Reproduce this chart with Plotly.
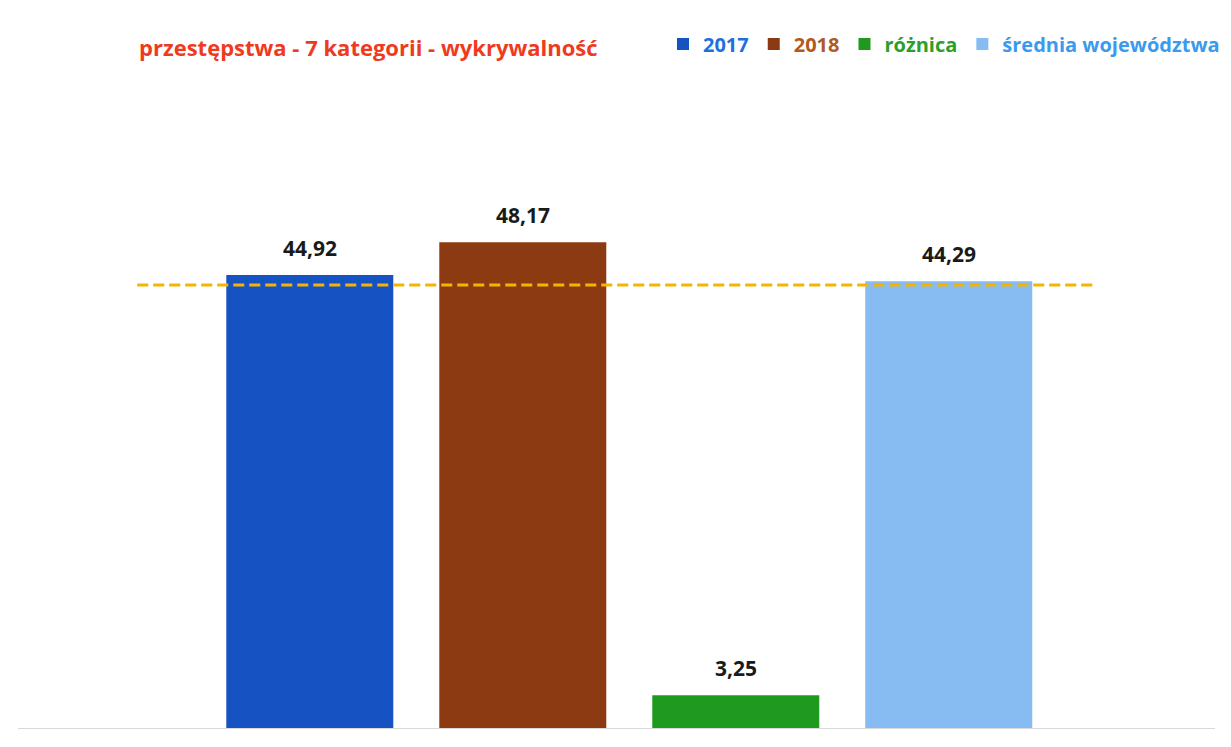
import plotly.graph_objects as go

categories = ["2017", "2018", "różnica", "średnia województwa"]
values = [44.92, 48.17, 3.25, 44.29]
labels = ["44,92", "48,17", "3,25", "44,29"]
colors = ["#1652C2", "#8C3A12", "#1F9A1F", "#86BCF2"]
legend_colors = ["#1F6FE0", "#B05A20", "#2AA02A", "#3A9AEE"]
average_line = 43.93

# page body has an 8px default margin; compensate
L, R, T, B = 10, 24, 72, 27
W, H = 1231, 747
PW, PH = W - L - R, H - T - B

fig = go.Figure()
for i, (cat, v, c, lc) in enumerate(zip(categories, values, colors, legend_colors)):
    fig.add_trace(go.Bar(
        x=[i], y=[v], width=0.784,
        name=f"<span style='color:{lc}'><b>{cat}</b></span>",
        marker=dict(color=c, line=dict(width=0)),
        hoverinfo="skip",
    ))
    fig.add_annotation(x=i, y=v, text=f"<b>{labels[i]}</b>", showarrow=False,
                       yanchor="bottom", yshift=11,
                       font=dict(size=21, color="#1a1a1a", family="Open Sans"))

fig.add_shape(type="line", x0=-0.81, x1=3.69, y0=average_line, y1=average_line,
              xref="x", yref="y", line=dict(color="#F5B400", width=3, dash="11px,5px"))

fig.update_layout(
    width=W, height=H,
    paper_bgcolor="white", plot_bgcolor="white",
    margin=dict(l=L, r=R, t=T, b=B),
    separators=",.",
    barmode="overlay",
    showlegend=True,
    legend=dict(orientation="h", x=1 + 10 / PW, xanchor="right",
                y=1 + (80 - 44) / PH, yanchor="middle",
                font=dict(size=20, family="Open Sans"), itemwidth=30,
                bgcolor="rgba(0,0,0,0)"),
    xaxis=dict(range=[-1.37, 4.25], showticklabels=False, showgrid=False,
               zeroline=False, showline=False),
    yaxis=dict(range=[0, 64.25], showticklabels=False, showgrid=False,
               zeroline=True, zerolinecolor="#D9D9D9", zerolinewidth=1, showline=False),
)
fig.add_annotation(x=(137 - 18) / PW, xref="paper", xanchor="left",
                   y=1 + (80 - 47) / PH, yref="paper", yanchor="middle", showarrow=False,
                   text="<b>przestępstwa - 7 kategorii - wykrywalność</b>",
                   font=dict(size=22, color="#F03A1E", family="Open Sans"))

fig.write_html("out.html")
